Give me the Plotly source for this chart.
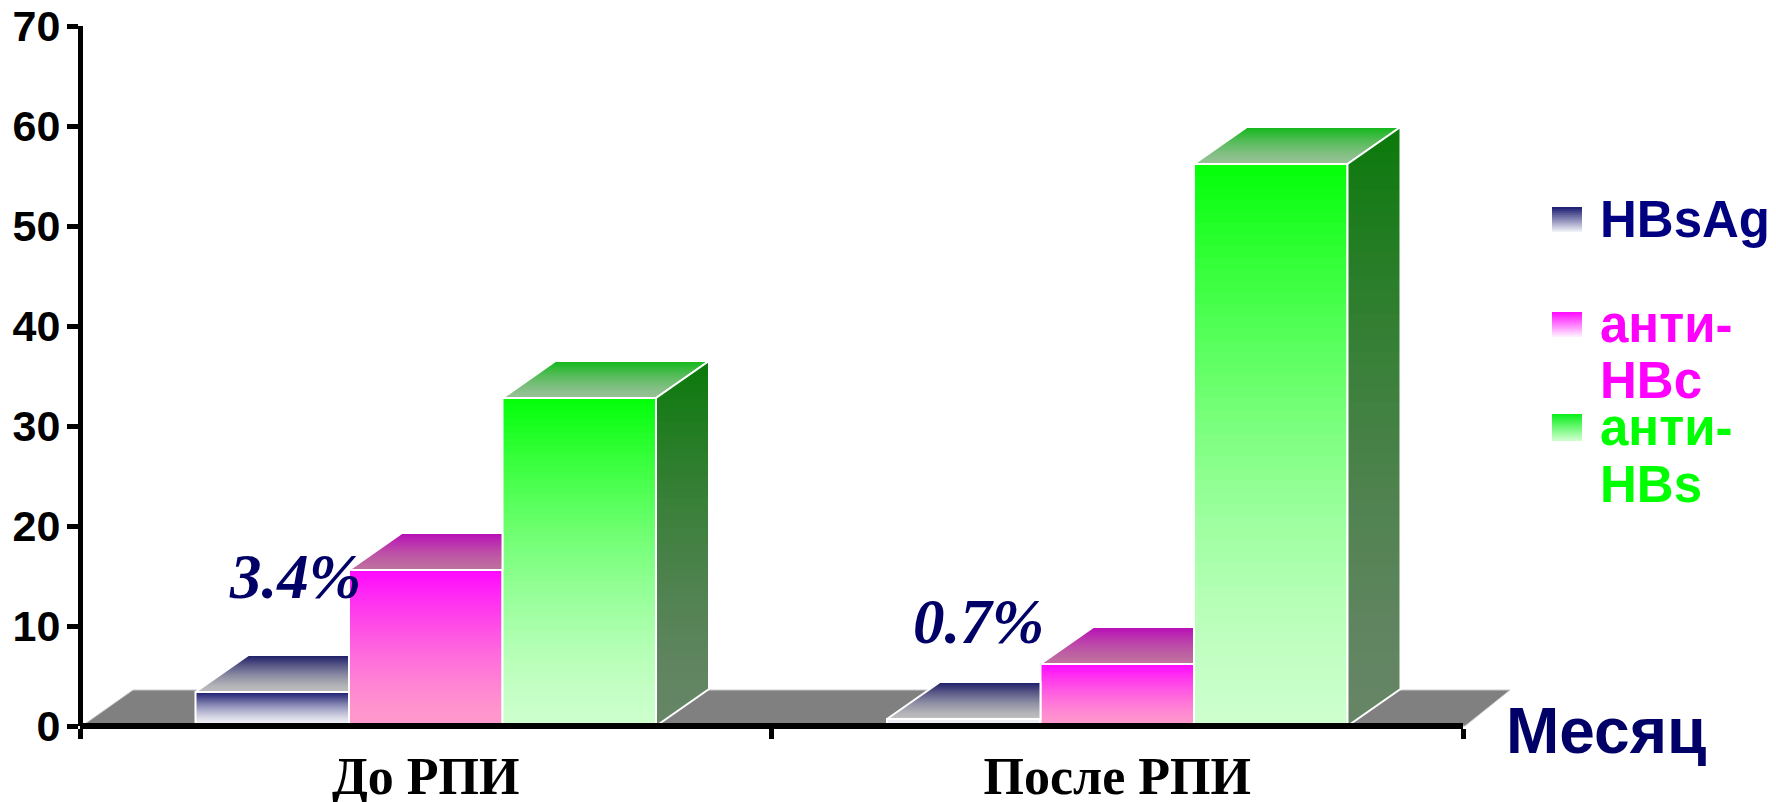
import numpy as np
import plotly.graph_objects as go

# Chart data
categories = ["До РПИ", "После РПИ"]
series_names = ["HBsAg", "анти-HBc", "анти-HBs"]
hbsag = [3.4, 0.7]
anti_hbc = [15.6, 6.2]
anti_hbs = [32.8, 56.2]
y_ticks = [0, 10, 20, 30, 40, 50, 60, 70]
value_labels = ["3.4%", "0.7%"]

# Plot frame, in page pixels
LEFT, RIGHT, TOP, BOTTOM = 80, 1463, 26, 726
X_UNIT = (RIGHT - LEFT) / 2
Y_UNIT = (BOTTOM - TOP) / 70

# Bar width and oblique depth, in axis units
BAR_W = 153.5 / X_UNIT
DEPTH_X = 53 / X_UNIT
DEPTH_Y = 37 / Y_UNIT
BANDS = 48


def mix(a, b, t):
    return "rgb(%d,%d,%d)" % tuple(round(a[i] + (b[i] - a[i]) * t) for i in range(3))


def ease(s):
    """Colour position for a face: changes fast near the top, settles near the bottom."""
    return 1 - (1 - s) ** 1.45


def paper_x(px):
    return (px - LEFT) / (RIGHT - LEFT)


def paper_y(px):
    return (BOTTOM - px) / (BOTTOM - TOP)


def clip_below(points, limit):
    """Keep the part of a polygon lying under a horizontal line."""
    out = []
    for i, (x0, y0) in enumerate(points):
        x1, y1 = points[(i + 1) % len(points)]
        if y0 <= limit:
            out.append((x0, y0))
        if (y0 <= limit) != (y1 <= limit):
            f = (limit - y0) / (y1 - y0)
            out.append((x0 + (x1 - x0) * f, limit))
    return out


def polygons_to_xy(polygons):
    xs, ys = [], []
    for poly in polygons:
        if len(poly) < 3:
            continue
        xs += [p[0] for p in poly] + [poly[0][0], None]
        ys += [p[1] for p in poly] + [poly[0][1], None]
    return xs, ys


def add_nested_face(fig, polygons, ranges, start, end):
    """Paint a vertical gradient by layering ever shorter copies of each polygon."""
    for k in range(BANDS, 0, -1):
        f = k / BANDS  # 1 at the upper edge of the face
        clipped = [clip_below(p, lo + (hi - lo) * f) for p, (lo, hi) in zip(polygons, ranges)]
        xs, ys = polygons_to_xy(clipped)
        fig.add_trace(go.Scatter(
            x=xs, y=ys, mode="none", fill="toself",
            fillcolor=mix(start, end, ease(1 - f + 0.5 / BANDS)),
            hoverinfo="skip", showlegend=False,
        ))


def add_outline(fig, polygons):
    xs, ys = polygons_to_xy(polygons)
    fig.add_trace(go.Scatter(
        x=xs, y=ys, mode="lines", line=dict(color="white", width=2),
        hoverinfo="skip", showlegend=False,
    ))


styles = [
    dict(values=hbsag, text="#000080", front=((0x1A, 0x1A, 0x70), (0xF4, 0xF4, 0xF8)),
         top=((0x1A, 0x1A, 0x66), (0xBE, 0xBE, 0xBE)), swatch=((0x22, 0x22, 0x77), (255, 255, 255))),
    dict(values=anti_hbc, text="#FF00FF", front=((0xFF, 0x08, 0xFF), (0xFF, 0x99, 0xCC)),
         top=((0xB8, 0x0C, 0xB8), (0xBF, 0x70, 0x9F)), swatch=((0xFF, 0x10, 0xFF), (255, 255, 255))),
    dict(values=anti_hbs, text="#00FF00", front=((0x02, 0xFF, 0x08), (0xCC, 0xFF, 0xCC)),
         top=((0x10, 0xB8, 0x18), (0x96, 0xC0, 0x96)), swatch=((0x10, 0xF0, 0x20), (0xCC, 0xFF, 0xCC))),
]
side_colors = ((0x0A, 0x7A, 0x0A), (0x66, 0x85, 0x66))

positions = list(range(len(categories)))
fig = go.Figure()

# Front faces: shortest copies are painted last so the colour runs down the bar
for i, style in enumerate(styles):
    offset = -1.5 * BAR_W + i * BAR_W
    values = style["values"]
    xs, ys, colors = [], [], []
    for k in range(BANDS, 0, -1):
        f = k / BANDS
        for p, v in zip(positions, values):
            # A very short bar only shows the pale end of its gradient
            s = 1 - f + 0.5 / BANDS
            if v < 1:
                s = 0.85 + 0.15 * s
            xs.append(p)
            ys.append(v * f)
            colors.append(mix(style["front"][0], style["front"][1], ease(s)))
    fig.add_trace(go.Bar(
        x=xs, y=ys, width=BAR_W, offset=offset, marker=dict(color=colors, line=dict(width=0)),
        hoverinfo="skip", showlegend=False,
    ))
    fig.add_trace(go.Bar(
        x=positions, y=values, name=series_names[i], width=BAR_W, offset=offset,
        marker=dict(color="rgba(0,0,0,0)", line=dict(color="white", width=2)),
        showlegend=False,
    ))

# Top faces, cut off where the next bar in the group stands in front of them
for i, style in enumerate(styles):
    offset = -1.5 * BAR_W + i * BAR_W
    last = i == len(styles) - 1
    polys, ranges = [], []
    for p, v in zip(positions, style["values"]):
        xl = p + offset
        xr = xl + BAR_W
        back_r = xr + DEPTH_X if last else xr
        polys.append([(xl, v), (xr, v), (back_r, v + DEPTH_Y), (xl + DEPTH_X, v + DEPTH_Y)])
        ranges.append((v, v + DEPTH_Y))
    add_nested_face(fig, polys, ranges, style["top"][0], style["top"][1])
    add_outline(fig, polys)

# Side faces of the last bar in each group
sides, side_ranges = [], []
for p, v in zip(positions, anti_hbs):
    xr = p + 1.5 * BAR_W
    sides.append([(xr, 0), (xr + DEPTH_X, DEPTH_Y), (xr + DEPTH_X, v + DEPTH_Y), (xr, v)])
    side_ranges.append((0, v + DEPTH_Y))
add_nested_face(fig, sides, side_ranges, side_colors[0], side_colors[1])
add_outline(fig, sides)

# Grey floor under the bars; it runs past the end of the axis at the far side
floor_back = paper_y(690)
shapes = [
    dict(type="path", xref="paper", yref="paper", layer="below", fillcolor="#808080",
         line=dict(color="#C8C8C8", width=1),
         path=f"M {paper_x(82)} 0 L {paper_x(1465)} 0 L {paper_x(1510)} {floor_back} "
              f"L {paper_x(133)} {floor_back} Z"),
]

annotations = []


def add_text(text, x, baseline, size, color, family="Liberation Sans", italic=False, anchor="left"):
    annotations.append(dict(
        text=text, xref="paper", yref="paper", x=paper_x(x), y=paper_y(baseline + size * 0.235),
        xanchor=anchor, yanchor="bottom", showarrow=False, borderpad=0,
        font=dict(family=family, size=size, color=color, weight=700,
                  style="italic" if italic else "normal"),
    ))


# Percentages over the first series
add_text(value_labels[0], 294.5, 598, 63, "#000066", "Liberation Serif", True, "center")
add_text(value_labels[1], 978, 643, 63, "#000066", "Liberation Serif", True, "center")

add_text("Месяц", 1505, 753, 64, "#000066")

# Hand-built key with gradient swatches
key_rows = [
    (207, [("HBsAg", 237)]),
    (312, [("анти-", 342), ("HBc", 398)]),
    (414, [("анти-", 445), ("HBs", 502)]),
]
for style, (swatch_top, lines) in zip(styles, key_rows):
    for k in range(14):
        y0 = swatch_top + 27 * k / 14
        shapes.append(dict(
            type="rect", xref="paper", yref="paper", layer="above", line=dict(width=0),
            x0=paper_x(1552), x1=paper_x(1582), y0=paper_y(y0), y1=paper_y(swatch_top + 27),
            fillcolor=mix(style["swatch"][0], style["swatch"][1], k / 13),
        ))
    for text, baseline in lines:
        add_text(text, 1599, baseline, 51, style["text"])

fig.update_layout(
    width=1776, height=802, autosize=False,
    margin=dict(l=LEFT, r=1776 - RIGHT, t=TOP, b=802 - BOTTOM, pad=0, autoexpand=False),
    paper_bgcolor="white", plot_bgcolor="rgba(0,0,0,0)",
    barmode="overlay", showlegend=False,
    shapes=shapes, annotations=annotations,
    xaxis=dict(
        range=[-0.5, 1.5], tickmode="array", tickvals=positions, ticktext=categories,
        ticks="", ticklen=0, showgrid=False, zeroline=False, automargin=False,
        anchor="free", position=0,
        showline=True, linecolor="black", linewidth=6, ticklabelstandoff=3,
        tickfont=dict(family="Liberation Serif", size=52, color="black", weight=700),
        minor=dict(tickmode="array", tickvals=[-0.5, 0.5, 1.5], ticks="outside",
                   ticklen=10, tickwidth=5, tickcolor="black", showgrid=False),
    ),
    yaxis=dict(
        range=[0, 70], tickmode="array", tickvals=y_ticks, showgrid=False, zeroline=False,
        ticks="outside", ticklen=11, tickwidth=5, tickcolor="black", automargin=False,
        anchor="free", position=0,
        showline=True, linecolor="black", linewidth=5, ticklabelstandoff=-2,
        tickfont=dict(family="Liberation Sans", size=43, color="black", weight=700),
    ),
)

fig.write_html("out.html")
